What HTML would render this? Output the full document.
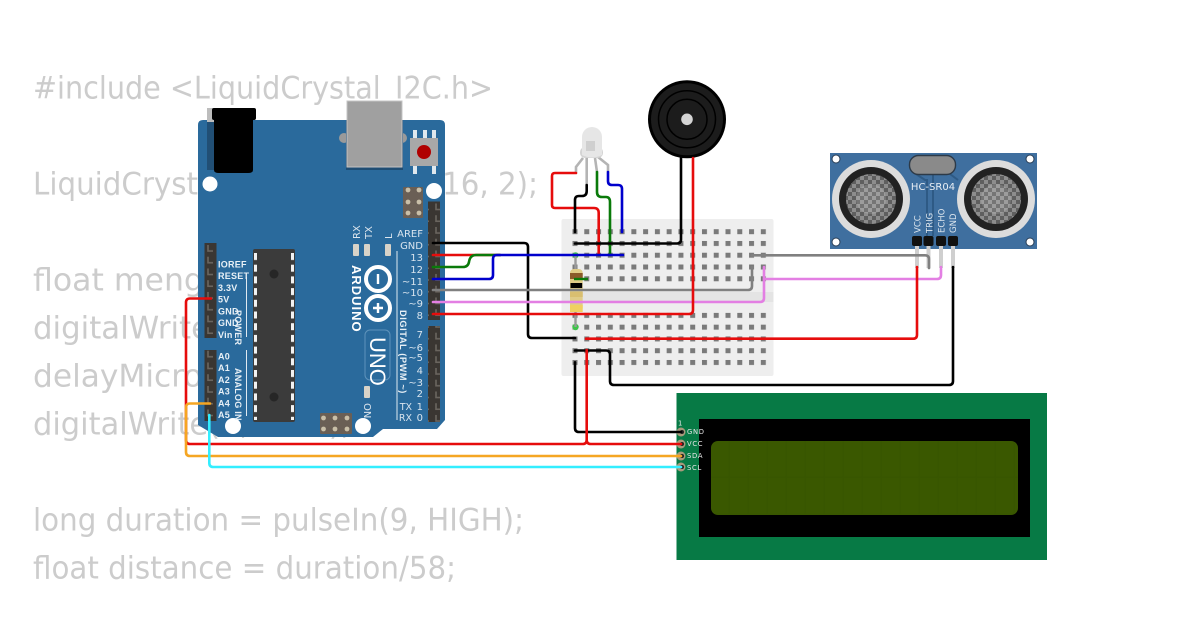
<!DOCTYPE html>
<html><head><meta charset="utf-8"><style>
html,body{margin:0;padding:0;background:#fff;width:1200px;height:630px;overflow:hidden}
svg{display:block}
.code{font:31px "DejaVu Sans",sans-serif;fill:#ccc}
.l{font:bold 9px "Liberation Sans",sans-serif;fill:#e8f0f6;letter-spacing:.25px}
.r{font:10px "DejaVu Sans",sans-serif;fill:#d8e4ee;text-anchor:end}
.w{fill:none;stroke-width:2.6;stroke-linejoin:round;stroke-linecap:round}
.lcd{font:6.8px "DejaVu Sans",sans-serif;fill:#e8e8e8;letter-spacing:.7px}
.s{font:8.5px "DejaVu Sans",sans-serif;fill:#dde6ee}
</style></head><body>
<svg width="1200" height="630" viewBox="0 0 1200 630" xmlns="http://www.w3.org/2000/svg">
<defs>
<pattern id="h1" patternUnits="userSpaceOnUse" x="572.5" y="229.2" width="11.77" height="11.77"><rect width="5" height="5" fill="#7a7a7a"/></pattern>
<pattern id="h2" patternUnits="userSpaceOnUse" x="572.5" y="312.9" width="11.77" height="11.77"><rect width="5" height="5" fill="#7a7a7a"/></pattern>
<pattern id="hdr" patternUnits="userSpaceOnUse" x="0" y="201.5" width="12" height="11.75"><rect width="12" height="11.75" fill="#3a3632"/><path d="M4 2v6h5" fill="none" stroke="#6a655f" stroke-width="1.6"/></pattern>
<pattern id="hdr2" patternUnits="userSpaceOnUse" x="0" y="243" width="12" height="11.75"><rect width="12" height="11.75" fill="#3a3632"/><path d="M4 2v6h5" fill="none" stroke="#6a655f" stroke-width="1.6"/></pattern>
<pattern id="mesh" patternUnits="userSpaceOnUse" x="0" y="0" width="8" height="8"><rect width="8" height="8" fill="#8d8d8d"/><rect width="4" height="4" fill="#5f5f5f"/><rect x="4" y="4" width="4" height="4" fill="#5f5f5f"/></pattern>
<pattern id="chip" patternUnits="userSpaceOnUse" x="0" y="253" width="10" height="11.7"><rect x="0" y="0" width="10" height="7" fill="#f2f2f2"/></pattern>
<pattern id="cells" patternUnits="userSpaceOnUse" x="711" y="441" width="19" height="37"><rect width="19" height="37" fill="#3a5800"/><rect x="17.5" width="1.5" height="37" fill="#385600"/><rect y="35.5" width="19" height="1.5" fill="#385600"/></pattern>
</defs>

<!-- background code text -->
<text class="code" x="33" y="98.5" textLength="460" lengthAdjust="spacingAndGlyphs">#include &lt;LiquidCrystal_I2C.h&gt;</text>
<text class="code" x="33" y="194.5" textLength="505" lengthAdjust="spacingAndGlyphs">LiquidCrystal_I2C lcd(0x27, 16, 2);</text>
<text class="code" x="33" y="290.5" textLength="375" lengthAdjust="spacingAndGlyphs">float mengukurJarak() {</text>
<text class="code" x="33" y="338.5" textLength="330" lengthAdjust="spacingAndGlyphs">digitalWrite(8, HIGH);</text>
<text class="code" x="33" y="386.5" textLength="372" lengthAdjust="spacingAndGlyphs">delayMicroseconds(10);</text>
<text class="code" x="33" y="434.5" textLength="318" lengthAdjust="spacingAndGlyphs">digitalWrite(8, LOW);</text>
<text class="code" x="33" y="530.5" textLength="491" lengthAdjust="spacingAndGlyphs">long duration = pulseIn(9, HIGH);</text>
<text class="code" x="33" y="578.5" textLength="423" lengthAdjust="spacingAndGlyphs">float distance = duration/58;</text>

<!-- LCD -->
<rect x="676.5" y="393" width="370.5" height="167" fill="#077a45"/>
<rect x="699" y="419" width="331" height="118" fill="#000"/>
<rect x="711" y="441" width="307" height="74" rx="7" fill="url(#cells)"/>
<text class="lcd" x="678" y="425.5">1</text>
<g fill="#a89a7c"><circle cx="681" cy="432" r="4.5"/><circle cx="681" cy="444" r="4.5"/><circle cx="681" cy="456" r="4.5"/><circle cx="681" cy="467" r="4.5"/></g>
<g fill="#222"><circle cx="682" cy="432" r="2"/><circle cx="682" cy="444" r="2"/><circle cx="682" cy="456" r="2"/><circle cx="682" cy="467" r="2"/></g>
<text class="lcd" x="687" y="434">GND</text>
<text class="lcd" x="687" y="446">VCC</text>
<text class="lcd" x="687" y="458">SDA</text>
<text class="lcd" x="687" y="470">SCL</text>

<!-- Arduino -->
<path d="M203 120H440Q445 120 445 125V420L437 429H383L373 437H218L198 425V125Q198 120 203 120Z" fill="#2a6a9c"/>
<rect x="207" y="122" width="8" height="48" fill="#214f75"/>
<rect x="207" y="108" width="7" height="14" fill="#bdbdbd"/>
<path d="M214 120H253V170Q253 173 248 173H219Q214 173 214 170Z" fill="#000"/>
<rect x="212" y="108" width="44" height="12" rx="2" fill="#000"/>
<circle cx="344" cy="138" r="5" fill="#9a9a9a"/><circle cx="402" cy="138" r="5" fill="#9a9a9a"/>
<rect x="346" y="120" width="57" height="50" fill="#1f4d73"/>
<rect x="347" y="101" width="55" height="66" fill="#a0a0a0" stroke="#c4c4c4" stroke-width="1"/>
<g fill="#dfe8ee"><rect x="413" y="130" width="4" height="8"/><rect x="423" y="130" width="4" height="8"/><rect x="432" y="130" width="4" height="8"/><rect x="413" y="166" width="4" height="8"/><rect x="432" y="166" width="4" height="8"/></g>
<rect x="410" y="138" width="28" height="28" fill="#a8a8a8"/>
<circle cx="424" cy="152" r="7" fill="#b00000"/>
<g fill="#fff"><circle cx="210" cy="184" r="7.5"/><circle cx="434" cy="191" r="8"/><circle cx="233" cy="426" r="8"/><circle cx="363" cy="426" r="8"/></g>

<rect x="403" y="187" width="20" height="31" rx="1" fill="#6a5f55"/>
<g fill="#c9bfa8"><circle cx="408" cy="190" r="2.4"/><circle cx="419" cy="190" r="2.4"/><circle cx="408" cy="202" r="2.4"/><circle cx="419" cy="202" r="2.4"/><circle cx="408" cy="213" r="2.4"/><circle cx="419" cy="213" r="2.4"/></g>
<rect x="320" y="413" width="32" height="21" rx="1" fill="#6a5f55"/>
<g fill="#c9bfa8"><circle cx="323.5" cy="418" r="2.4"/><circle cx="335" cy="418" r="2.4"/><circle cx="347" cy="418" r="2.4"/><circle cx="323.5" cy="429" r="2.4"/><circle cx="335" cy="429" r="2.4"/><circle cx="347" cy="429" r="2.4"/></g>

<rect x="428" y="201.5" width="12" height="118.5" fill="url(#hdr)"/>
<rect x="428" y="326" width="12" height="96" fill="url(#hdr)"/>
<rect x="204.5" y="243" width="12" height="95" fill="url(#hdr2)"/>
<rect x="204.5" y="350" width="12" height="71" fill="url(#hdr2)"/>

<!-- chip -->
<rect x="253" y="249" width="42" height="173" rx="2" fill="#3b3b3b"/>
<rect x="254" y="253" width="3" height="167" fill="url(#chip)"/>
<rect x="291" y="253" width="3" height="167" fill="url(#chip)"/>
<circle cx="274" cy="274" r="4.5" fill="#262626"/><circle cx="274" cy="397" r="4.5" fill="#262626"/>

<g stroke="#dfe9f1" stroke-width="1" fill="none"><path d="M246.5 277V337M246.5 350V416M397 251V420"/></g>
<text class="l" x="218" y="267.5">IOREF</text>
<text class="l" x="218" y="279">RESET</text>
<text class="l" x="218" y="291">3.3V</text>
<text class="l" x="218" y="302.5">5V</text>
<text class="l" x="218" y="314.5">GND</text>
<text class="l" x="218" y="326">GND</text>
<text class="l" x="218" y="338">Vin</text>
<text class="l" x="218" y="359.5">A0</text>
<text class="l" x="218" y="371">A1</text>
<text class="l" x="218" y="383">A2</text>
<text class="l" x="218" y="394.5">A3</text>
<text class="l" x="218" y="406.5">A4</text>
<text class="l" x="218" y="418">A5</text>
<text class="l" transform="translate(235,310) rotate(90)">POWER</text>
<text class="l" transform="translate(235,368) rotate(90)">ANALOG IN</text>

<text class="r" x="423" y="237">AREF</text>
<text class="r" x="423" y="249">GND</text>
<text class="r" x="423" y="261">13</text>
<text class="r" x="423" y="273">12</text>
<text class="r" x="423" y="285">~11</text>
<text class="r" x="423" y="296">~10</text>
<text class="r" x="423" y="307">~9</text>
<text class="r" x="423" y="319">8</text>
<text class="r" x="423" y="338">7</text>
<text class="r" x="423" y="351">~6</text>
<text class="r" x="423" y="361">~5</text>
<text class="r" x="423" y="374">4</text>
<text class="r" x="423" y="386">~3</text>
<text class="r" x="423" y="397">2</text>
<text class="r" x="423" y="410">1</text>
<text class="r" x="423" y="421">0</text>
<text class="r" x="412" y="410" style="font-size:9.5px">TX</text>
<text class="r" x="412" y="421" style="font-size:9.5px">RX</text>
<text style="font:bold 9.2px 'Liberation Sans',sans-serif;fill:#e8f0f6;letter-spacing:.6px" transform="translate(400,310) rotate(90)">DIGITAL (PWM ~)</text>

<text class="s" style="font-size:10px" transform="translate(360,239) rotate(-90)">RX</text>
<text class="s" style="font-size:10px" transform="translate(372,239) rotate(-90)">TX</text>
<text class="s" style="font-size:10px" transform="translate(392,239) rotate(-90)">L</text>
<g fill="#d8d3c8"><rect x="353" y="244" width="6" height="12" rx="1"/><rect x="364" y="244" width="6" height="12" rx="1"/><rect x="385" y="244" width="6" height="12" rx="1"/><rect x="364" y="386" width="6" height="12" rx="1"/></g>
<text class="s" style="font-size:10px" transform="translate(364,403) rotate(90)">ON</text>
<text style="font:bold 13px 'Liberation Sans',sans-serif;fill:#fff;letter-spacing:1px" transform="translate(352,265) rotate(90)">ARDUINO</text>
<g fill="none" stroke="#fff" stroke-width="4"><circle cx="378" cy="279" r="12"/><circle cx="378" cy="308" r="12"/></g>
<path d="M378 274v10M373 308h10M378 303v10" stroke="#fff" stroke-width="2.4"/>
<rect x="365" y="330" width="25" height="50" rx="5" fill="none" stroke="#5f93bb" stroke-width="1"/>
<text style="font:22px 'Liberation Sans',sans-serif;fill:#fff" transform="translate(370,337) rotate(90)">UNO</text>

<!-- Breadboard -->
<rect x="561.5" y="219" width="212" height="157" rx="2" fill="#eeeeee"/>
<rect x="561.5" y="292" width="212" height="10" fill="#e4e4e4"/>
<rect x="571" y="228" width="197" height="57" fill="url(#h1)"/>
<rect x="571" y="312" width="197" height="54" fill="url(#h2)"/>

<!-- Resistor -->
<circle cx="575.5" cy="255.3" r="3" fill="#3fc44a"/>
<circle cx="575.5" cy="327" r="3.2" fill="#3fc44a"/>
<path d="M575.5 255V327" stroke="#9a9a9a" stroke-width="2.4"/>
<rect x="570" y="269" width="12.7" height="43" rx="4" fill="#e0cc88"/>
<rect x="570" y="273" width="12.7" height="6" fill="#8a5a2a"/>
<rect x="570.5" y="283" width="11.7" height="5" fill="#000"/>
<rect x="570" y="292" width="12.7" height="5" fill="#d9bf70"/>
<rect x="570" y="305" width="12.7" height="7" fill="#f0d060"/>
<path d="M574 279H588" stroke="#0a7a0a" stroke-width="2.4"/>

<!-- LED -->
<g fill="none" stroke="#b4b4b4" stroke-width="2.6">
<path d="M576 173V167L583 158"/><path d="M586.7 185V158"/><path d="M597 172L595 158"/><path d="M608 172V165L598 157"/>
</g>
<rect x="580" y="147" width="23" height="11" rx="5" fill="#d4d4d4"/>
<path d="M582 155V137A10 10 0 0 1 602 137V155Q592 160 582 155Z" fill="#e6e6e6"/>
<rect x="586" y="141" width="9" height="10" fill="#cfcfcf"/>

<!-- Buzzer -->
<circle cx="687" cy="119.3" r="39" fill="#000"/>
<circle cx="687" cy="119.3" r="36" fill="#1c1c1c"/>
<circle cx="687" cy="119.3" r="28.5" fill="none" stroke="#000" stroke-width="1.5"/>
<circle cx="687" cy="119.3" r="20" fill="none" stroke="#000" stroke-width="1.5"/>
<circle cx="687" cy="119.3" r="5.8" fill="#d4d4d4"/>

<!-- HC-SR04 -->
<rect x="830" y="153" width="207" height="96" fill="#3f6f9f"/>
<g fill="none" stroke="#2e5a85" stroke-width="2"><path d="M913 172L925 180H927V236"/><path d="M933 174V236"/><path d="M950 174L958 180"/></g>
<rect x="909.5" y="155.5" width="46" height="19" rx="9" fill="#8a8a8a" stroke="#2d3a48" stroke-width="1.4"/>
<g fill="#fff" stroke="#2a3e55" stroke-width="1"><circle cx="836" cy="159" r="4"/><circle cx="1030" cy="159" r="4"/><circle cx="836" cy="242" r="4"/><circle cx="1030" cy="242" r="4"/></g>
<circle cx="871" cy="199" r="39" fill="#dcdcdc"/><circle cx="871" cy="199" r="32" fill="#222"/><circle cx="871" cy="199" r="25" fill="url(#mesh)"/><circle cx="871" cy="199" r="15" fill="#fff" fill-opacity=".14"/>
<circle cx="996" cy="199" r="39" fill="#dcdcdc"/><circle cx="996" cy="199" r="32" fill="#222"/><circle cx="996" cy="199" r="25" fill="url(#mesh)"/><circle cx="996" cy="199" r="15" fill="#fff" fill-opacity=".14"/>
<text x="933" y="190" text-anchor="middle" style="font:10px 'DejaVu Sans',sans-serif;fill:#e8eef4">HC-SR04</text>
<text class="s" transform="translate(920.5,233) rotate(-90)">VCC</text>
<text class="s" transform="translate(932.5,233) rotate(-90)">TRIG</text>
<text class="s" transform="translate(944.5,233) rotate(-90)">ECHO</text>
<text class="s" transform="translate(956,233) rotate(-90)">GND</text>
<g fill="#cfcfcf"><rect x="915" y="244" width="4" height="24"/><rect x="926.5" y="244" width="4" height="24"/><rect x="939" y="244" width="4" height="24"/><rect x="951" y="244" width="4" height="24"/></g>
<g fill="#111"><rect x="912" y="236" width="10" height="10" rx="2"/><rect x="923.5" y="236" width="10" height="10" rx="2"/><rect x="936" y="236" width="10" height="10" rx="2"/><rect x="948" y="236" width="10" height="10" rx="2"/></g>

<!-- Wires -->
<g class="w">
<path class="w" stroke="#000" d="M433 243H524Q528 243 528 247V334Q528 338 532 338H575"/>
<path class="w" stroke="#e60c0c" d="M433 255H500"/>
<path class="w" stroke="#0a7a0a" d="M433 267H463Q468 267 469 262Q470 255 476 255H500"/>
<path class="w" stroke="#e60c0c" d="M576 173H555Q552 173 552 176V205Q552 208 555 208H594Q598.7 208 598.7 213V255"/>
<path class="w" stroke="#0a7a0a" d="M597 172V192Q597 197 602 197H606Q610 197 610 202V255"/>
<path class="w" stroke="#0000cc" d="M433 279H489Q493 279 493 275V259Q493 255 497 255H623"/>
<path class="w" stroke="#000" d="M586.7 185V191Q586.7 196 582 196H579Q575 196 575 200V232"/>
<path class="w" stroke="#0000cc" d="M608 172V181Q608 185 612 185H618Q622 185 622 189V232"/>
<path class="w" stroke="#808080" d="M433 290H748Q752 290 752 286V267"/>
<path class="w" stroke="#e37fe3" d="M433 302H760Q764 302 764 298V267"/>
<path class="w" stroke="#e60c0c" d="M433 314H689Q693 314 693 310V158"/>
<path class="w" stroke="#000" d="M575 243.5H677Q681 243.5 681 239.5V158"/>
<path class="w" stroke="#808080" d="M752 255.3H925Q929 255.3 929 259V268"/>
<path class="w" stroke="#e37fe3" d="M764 279H937Q941 279 941 275V267"/>
<path class="w" stroke="#e60c0c" d="M586 338.7H913Q917 338.7 917 334.7V267"/>
<path class="w" stroke="#000" d="M575 350.5H606Q610 350.5 610 354.5V381Q610 385 614 385H949Q953 385 953 381V267"/>
<path class="w" stroke="#000" d="M575 362.3V428Q575 432 579 432H681"/>
<path class="w" stroke="#e60c0c" d="M586.7 350V440Q586.7 444 590.7 444H681"/>
<path class="w" stroke="#e60c0c" d="M211 298.5H190Q186 298.5 186 302.5V440Q186 444 190 444H582.7Q586.7 444 586.7 440"/>
<path class="w" stroke="#f5a623" d="M210 403.5H190Q186 403.5 186 407.5V452Q186 456 190 456H681"/>
<path class="w" stroke="#33eeff" d="M209.3 415V463Q209.3 467 213.3 467H681"/>
</g>
</svg>
</body></html>
